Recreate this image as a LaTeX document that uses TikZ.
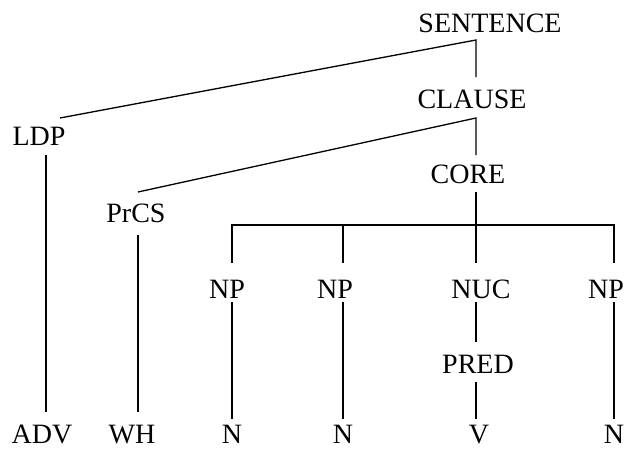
\documentclass[tikz,border=0pt]{standalone}
\usepackage{fontspec}
\setmainfont{Liberation Serif}
\begin{document}
\begin{tikzpicture}[x=1pt,y=-1pt,
  lbl/.style={inner sep=0pt,anchor=base,font=\fontsize{28}{32}\selectfont},
  edge/.style={line width=1.3pt,line cap=butt}]
\useasboundingbox (0,0) rectangle (627,450);
% labels
\node[lbl] (sent) at (490,32) {SENTENCE};
\node[lbl] (clause) at (472,108) {CLAUSE};
\node[lbl] (core) at (468,183) {CORE};
\node[lbl] (ldp) at (39,145) {LDP};
\node[lbl] (prcs) at (136,222) {PrCS};
\node[lbl] (np1) at (227,298) {NP};
\node[lbl] (np2) at (335,298) {NP};
\node[lbl] (nuc) at (481,298) {NUC};
\node[lbl] (np3) at (606,298) {NP};
\node[lbl] (pred) at (478,373) {PRED};
\node[lbl] (adv) at (42,443) {ADV};
\node[lbl] (wh) at (132,443) {WH};
\node[lbl] (n1) at (232,443) {N};
\node[lbl] (n2) at (343,443) {N};
\node[lbl] (v) at (479,443) {V};
\node[lbl] (n3) at (614,443) {N};
% connector points
\coordinate (sentB) at (476,40);
\coordinate (clauseT) at (476,77);
\coordinate (ldpT) at (60,118);
\coordinate (clauseB) at (476,118);
\coordinate (coreT) at (476,155);
\coordinate (prcsT) at (138,192);
\coordinate (coreB) at (476,192);
\coordinate (barM) at (476,225);
\coordinate (barL) at (232,225);
\coordinate (barR) at (614,225);
\coordinate (barN2) at (343,225);
\coordinate (np1T) at (232,263);
\coordinate (np2T) at (343,263);
\coordinate (nucT) at (476,263);
\coordinate (np3T) at (614,263);
\coordinate (ldpB) at (46,155);
\coordinate (advT) at (46,412);
\coordinate (prcsB) at (138,235);
\coordinate (whT) at (138,412);
\coordinate (np1B) at (232,302);
\coordinate (n1T) at (232,419);
\coordinate (np2B) at (343,302);
\coordinate (n2T) at (343,419);
\coordinate (nucB) at (476,302);
\coordinate (predT) at (476,342);
\coordinate (predB) at (476,382);
\coordinate (vT) at (476,419);
\coordinate (np3B) at (614,302);
\coordinate (n3T) at (614,419);
% connectors
\draw[edge] (ldpT) -- (sentB) -- (clauseT);
\draw[edge] (prcsT) -- (clauseB) -- (coreT);
\draw[edge] (coreB) -- (barM);
\draw[edge] (np1T) -- (barL) -- (barR) -- (np3T);
\draw[edge] (barN2) -- (np2T);
\draw[edge] (barM) -- (nucT);
\draw[edge] (ldpB) -- (advT);
\draw[edge] (prcsB) -- (whT);
\draw[edge] (np1B) -- (n1T);
\draw[edge] (np2B) -- (n2T);
\draw[edge] (nucB) -- (predT);
\draw[edge] (predB) -- (vT);
\draw[edge] (np3B) -- (n3T);
\end{tikzpicture}
\end{document}
